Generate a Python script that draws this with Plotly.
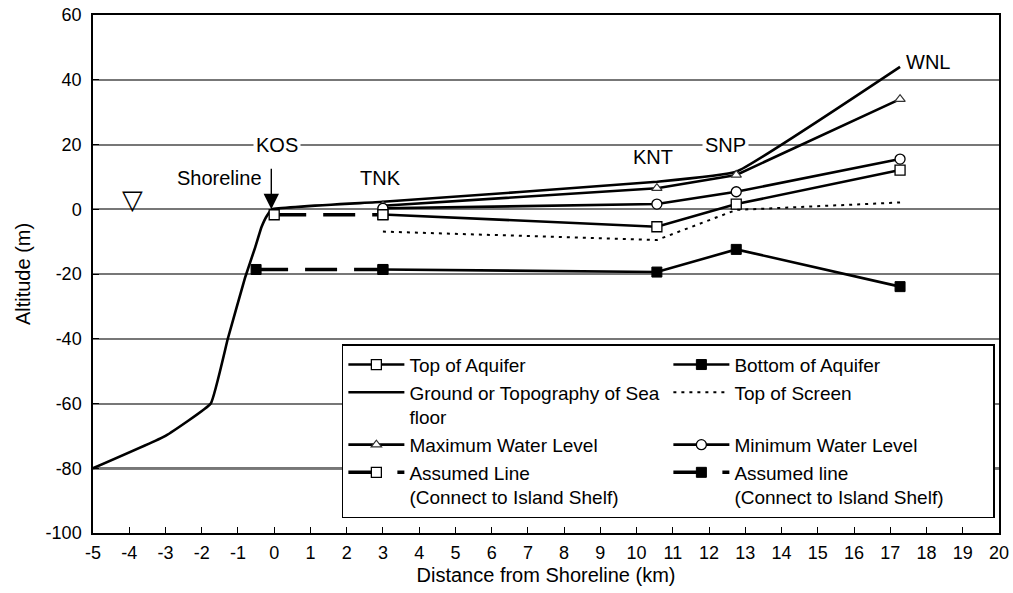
import plotly.graph_objects as go

# ---------------- data ----------------
wells_x = [3.0, 10.56, 12.75, 17.27]          # TNK, KNT, SNP, WNL
top_aquifer = [-1.6, -5.4, 1.6, 12.1]
bottom_aquifer = [-18.6, -19.4, -12.4, -23.9]
max_water = [1.1, 6.5, 10.6, 34.0]
min_water = [0.3, 1.6, 5.4, 15.5]
top_screen = [-6.9, -9.5, -0.2, 2.1]

ground_x = [-5, -3, -1.75, -1.28, -0.8, -0.52, -0.35, -0.2, -0.05, 3.0, 10.56, 12.75, 17.27]
ground_y = [-80, -70, -60, -40, -21, -11.6, -5.5, -2.0, 0, 2.3, 8.5, 11.6, 44.0]

assumed_top_x = [0.0, 3.0]
assumed_top_y = [-1.7, -1.7]
assumed_bot_x = [-0.5, 3.0]
assumed_bot_y = [-18.6, -18.6]

seafloor_base = -80
dark_grid = -60
x_range = [-5, 20]
y_range = [-100, 60]

x_tickvals = list(range(-5, 21))
x_ticktext = [str(v) for v in x_tickvals]      # plain hyphen minus
y_tickvals = list(range(-100, 61, 20))
y_ticktext = [str(v) for v in y_tickvals]

labels = [  # text, x, y
    ("Shoreline", -1.51, 9.5),
    ("TNK", 2.93, 9.5),
    ("KNT", 10.45, 16.2),
    ("WNL", 18.04, 45.5),
]
bg_labels = [("KOS", 0.07, 19.8), ("SNP", 12.44, 19.8)]
sea_level_mark = ("▽", -3.9, 3.0)
shore_x = -0.08

FONT = "Liberation Sans, Arial, Helvetica, sans-serif"

fig = go.Figure()

fig.add_trace(go.Scatter(
    x=wells_x, y=top_aquifer, name="Top of Aquifer", mode="lines+markers",
    line=dict(color="black", width=2.6),
    marker=dict(symbol="square", size=10, color="white", line=dict(color="black", width=1.3))))
fig.add_trace(go.Scatter(
    x=wells_x, y=bottom_aquifer, name="Bottom of Aquifer", mode="lines+markers",
    line=dict(color="black", width=2.6),
    marker=dict(symbol="square", size=10, color="black", line=dict(color="black", width=1))))
fig.add_trace(go.Scatter(
    x=ground_x, y=ground_y, name="Ground or Topography of Sea<br>floor", mode="lines",
    line=dict(color="black", width=2.6, shape="spline", smoothing=0.3)))
fig.add_trace(go.Scatter(
    x=wells_x, y=top_screen, name="Top of Screen", mode="lines",
    line=dict(color="black", width=2, dash="3px,5px")))
fig.add_trace(go.Scatter(
    x=wells_x, y=max_water, name="Maximum Water Level", mode="lines+markers",
    line=dict(color="black", width=2.6),
    marker=dict(symbol="triangle-up", size=9, color="white", line=dict(color="#333", width=1.2))))
fig.add_trace(go.Scatter(
    x=wells_x, y=min_water, name="Minimum Water Level", mode="lines+markers",
    line=dict(color="black", width=2.6),
    marker=dict(symbol="circle", size=10, color="white", line=dict(color="black", width=1.3))))
fig.add_trace(go.Scatter(
    x=assumed_top_x, y=assumed_top_y, name="Assumed Line<br>(Connect to Island Shelf)",
    mode="lines+markers",
    line=dict(color="black", width=3.5, dash="32px,17px"),
    marker=dict(symbol="square", size=10, color="white", line=dict(color="black", width=1.3))))
fig.add_trace(go.Scatter(
    x=assumed_bot_x, y=assumed_bot_y, name="Assumed line<br>(Connect to Island Shelf)",
    mode="lines+markers",
    line=dict(color="black", width=3.5, dash="32px,17px"),
    marker=dict(symbol="square", size=10, color="black", line=dict(color="black", width=1))))

# annotations
for t, x, y in labels:
    fig.add_annotation(x=x, y=y, text=t, showarrow=False,
                       font=dict(size=20, color="black", family=FONT))
for t, x, y in bg_labels:
    fig.add_annotation(x=x, y=y, text=t, showarrow=False, bgcolor="white",
                       borderpad=2, font=dict(size=20, color="black", family=FONT))
fig.add_annotation(x=sea_level_mark[1], y=sea_level_mark[2], text=sea_level_mark[0],
                   showarrow=False, font=dict(size=27, color="black", family="DejaVu Sans"))
fig.add_annotation(x=shore_x, y=0, ax=0, ay=-42, text="", showarrow=True,
                   arrowhead=2, arrowsize=2.2, arrowwidth=1.4, arrowcolor="black")

# reference lines
fig.add_shape(type="line", xref="x", yref="y", x0=x_range[0], x1=x_range[1],
              y0=seafloor_base, y1=seafloor_base, line=dict(color="black", width=2.5),
              layer="below")
fig.add_shape(type="line", xref="x", yref="y", x0=x_range[0], x1=x_range[1],
              y0=dark_grid, y1=dark_grid, line=dict(color="black", width=1.2), layer="below")

fig.update_layout(
    width=1013, height=593,
    margin=dict(l=93, r=14, t=15, b=60),
    paper_bgcolor="white", plot_bgcolor="white",
    font=dict(family=FONT, size=18, color="black"),
    showlegend=True,
    legend=dict(
        orientation="h", x=0.2747, y=0.3645, xanchor="left", yanchor="top",
        bgcolor="white", bordercolor="black", borderwidth=1.5,
        font=dict(size=19, family=FONT), entrywidth=254, itemwidth=56,
        valign="top",
    ),
    xaxis=dict(
        range=x_range, tickmode="array", tickvals=x_tickvals, ticktext=x_ticktext,
        showgrid=False, zeroline=False,
        showline=True, linecolor="black", linewidth=1.5, mirror=True,
        ticks="inside", ticklen=6, tickwidth=1.2, tickcolor="black",
        tickfont=dict(size=18), ticklabelstandoff=3, automargin=False,
        title=dict(text="Distance from Shoreline (km)", font=dict(size=20), standoff=6),
    ),
    yaxis=dict(
        range=y_range, tickmode="array", tickvals=y_tickvals, ticktext=y_ticktext,
        showgrid=True, gridcolor="#777",
        gridwidth=1.5, zeroline=False,
        showline=True, linecolor="black", linewidth=1.5, mirror=True,
        ticks="inside", ticklen=6, tickwidth=1.2, tickcolor="black",
        tickfont=dict(size=18), ticklabelstandoff=6, automargin=False,
        title=dict(text="Altitude (m)", font=dict(size=20), standoff=10),
    ),
)

fig.write_html("out.html")
